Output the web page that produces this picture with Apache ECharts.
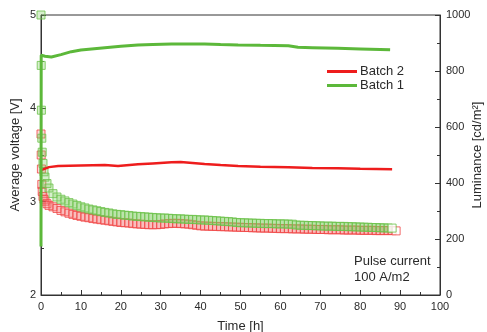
<!DOCTYPE html>
<html>
<head>
<meta charset="utf-8">
<script src="https://cdn.jsdelivr.net/npm/echarts@6/dist/echarts.min.js"></script>
<style>
  html, body { margin: 0; padding: 0; background: #fff; }
  #chart { width: 487px; height: 332px; }
</style>
</head>
<body>
<div id="chart"></div>
<script>
// Average voltage (left axis) — time [h] and volts
const voltTimeB1 = [0, 0.05, 0.5, 1, 2.6, 5, 7.6, 10, 16, 20, 24.3, 28, 32.7, 37, 41, 45, 49.4, 55, 62, 64.4, 68, 74.4, 80, 87.5];
const voltB1 = [2.52, 4.57, 4.564, 4.558, 4.55, 4.575, 4.607, 4.625, 4.65, 4.665, 4.679, 4.685, 4.689, 4.69, 4.689, 4.684, 4.679, 4.675, 4.671, 4.654, 4.65, 4.643, 4.637, 4.628];
const voltTimeB2 = [0.2, 0.5, 2, 4.3, 10, 16, 19.3, 24.3, 28, 32.7, 35, 38, 41, 45, 49.4, 55, 62, 68, 74.4, 80, 88];
const voltB2 = [3.34, 3.357, 3.37, 3.382, 3.388, 3.393, 3.382, 3.40, 3.41, 3.422, 3.425, 3.415, 3.404, 3.392, 3.382, 3.375, 3.368, 3.362, 3.357, 3.352, 3.347];

// Luminance (right axis) — time [h] and cd/m2
const lumTime = [0, 0.05, 0.1, 0.2, 0.3, 0.5, 0.75, 1, 1.5, 2,
  3, 4, 5, 6, 7, 8, 9, 10, 11, 12, 13, 14, 15, 16, 17, 18, 19, 20,
  21, 22, 23, 24, 25, 26, 27, 28, 29, 30, 31, 32, 33, 34, 35, 36, 37, 38, 39, 40,
  41, 42, 43, 44, 45, 46, 47, 48, 49, 50, 51, 52, 53, 54, 55, 56, 57, 58, 59, 60,
  61, 62, 63, 64, 65, 66, 67, 68, 69, 70, 71, 72, 73, 74, 75, 76, 77, 78, 79, 80,
  81, 82, 83, 84, 85, 86, 87, 88, 89];
const lumB1 = [1000, 820, 660, 560, 510, 470, 440, 421, 398, 382,
  362, 350, 342, 336, 330, 325, 320, 315, 311, 307, 304, 301, 298, 295, 293, 290, 288, 287,
  285, 284, 282, 281, 280, 279, 278, 277, 276, 275, 275, 274, 273, 272, 272, 271, 270, 270, 269, 268,
  268, 267, 266, 265, 264, 263, 262, 261, 259, 258, 258, 257, 257, 256, 256, 255, 255, 255, 254, 254,
  254, 253, 253, 250, 249, 249, 248, 248, 247, 247, 246, 246, 246, 245, 245, 245, 244, 244, 243, 243,
  242, 242, 241, 241, 240, 240, 239, 239, null];
const lumB2 = [575, 500, 450, 395, 370, 352, 342, 335, 326, 320,
  315, 309, 302, 297, 292, 288, 284, 281, 278, 276, 273, 271, 269, 267, 265, 263, 261, 259,
  258, 257, 255, 254, 253, 252, 251, 251, 251, 252, 254, 255, 256, 256, 255, 254, 253, 251, 249, 247,
  246, 246, 245, 245, 244, 244, 243, 243, 242, 242, 241, 241, 240, 240, 239, 239, 239, 238, 238, 237,
  237, 237, 236, 236, 236, 235, 235, 235, 234, 234, 234, 233, 233, 233, 233, 232, 232, 232, 232, 231,
  231, 231, 231, 230, 230, 230, 230, 230, 229];

const seriesNames = ['Batch 2', 'Batch 1'];
const annotation = ['Pulse current', '100 A/m2'];

const RED = '#ee1d1d';
const GREEN = '#5cb83a';
const TEXT = '#2a2a2a';
const FONT = 'Liberation Sans, Arial, sans-serif';

function pairs(ts, vs) {
  const out = [];
  ts.forEach((t, i) => { if (vs[i] != null) out.push([t, vs[i]]); });
  return out;
}
// Open squares; the final sample is drawn with a white face
function squares(ts, vs, color) {
  const pts = pairs(ts, vs);
  return pts.map((p, i) => i === pts.length - 1
    ? { value: p, itemStyle: { color: '#fff', borderColor: color } }
    : p);
}

const chart = echarts.init(document.getElementById('chart'), null, { renderer: 'canvas' });

const axisCommon = {
  axisLine: { show: true, lineStyle: { color: '#333', width: 1 } },
  axisTick: { show: true, inside: true, length: 5, lineStyle: { color: '#333', width: 1 } },
  minorTick: { show: true, splitNumber: 2, length: 3, lineStyle: { color: '#333', width: 1 } },
  splitLine: { show: false },
  axisLabel: { color: TEXT, fontSize: 11, fontFamily: FONT },
  nameTextStyle: { color: TEXT, fontSize: 13, fontFamily: FONT },
  nameMoveOverlap: false
};

chart.setOption({
  animation: false,
  backgroundColor: '#fff',
  grid: {
    left: 41, right: 47, top: 15, bottom: 37,
    outerBoundsMode: 'none', containLabel: false,
    show: true, borderColor: '#333', borderWidth: 1
  },
  xAxis: Object.assign({}, axisCommon, {
    type: 'value', min: 0, max: 100, interval: 10,
    name: 'Time [h]', nameLocation: 'middle', nameGap: 25,
    axisLabel: Object.assign({}, axisCommon.axisLabel, { margin: 6 })
  }),
  yAxis: [
    Object.assign({}, axisCommon, {
      type: 'value', min: 2, max: 5, interval: 1, position: 'left',
      name: 'Average voltage [V]', nameLocation: 'middle', nameGap: 19, nameRotate: 90,
      axisLabel: Object.assign({}, axisCommon.axisLabel, { margin: 5 })
    }),
    Object.assign({}, axisCommon, {
      type: 'value', min: 0, max: 1000, interval: 200, position: 'right',
      name: 'Luminance [cd/m²]', nameLocation: 'middle', nameGap: 31, nameRotate: 90,
      axisLabel: Object.assign({}, axisCommon.axisLabel, { margin: 6, formatter: v => String(v) })
    })
  ],
  legend: {
    data: seriesNames,
    orient: 'vertical', left: 322, top: 60,
    icon: 'rect', itemWidth: 30, itemHeight: 3, itemGap: 1,
    textStyle: { color: TEXT, fontSize: 13, fontFamily: FONT, padding: [0, 0, 0, -2] }
  },
  graphic: [{
    type: 'text', left: 354, top: 253,
    style: { text: annotation.join('\n'), fill: TEXT, font: '13px ' + FONT, lineHeight: 16 }
  }],
  series: [
    {
      name: 'Batch 2 luminance', type: 'scatter', yAxisIndex: 1,
      symbol: 'rect', symbolSize: 8,
      itemStyle: { color: 'rgba(245,120,120,0.35)', borderColor: '#f04545', borderWidth: 1 },
      data: squares(lumTime, lumB2, '#f04545'), z: 2
    },
    {
      name: 'Batch 1 luminance', type: 'scatter', yAxisIndex: 1,
      symbol: 'rect', symbolSize: 8,
      itemStyle: { color: 'rgba(130,205,100,0.4)', borderColor: '#6cc24a', borderWidth: 1 },
      data: squares(lumTime, lumB1, '#6cc24a'), z: 3
    },
    {
      name: 'Batch 2', type: 'line', yAxisIndex: 0, showSymbol: false, symbol: 'none',
      lineStyle: { color: RED, width: 2.5 }, itemStyle: { color: RED },
      data: pairs(voltTimeB2, voltB2), z: 4
    },
    {
      name: 'Batch 1', type: 'line', yAxisIndex: 0, showSymbol: false, symbol: 'none',
      lineStyle: { color: GREEN, width: 3 }, itemStyle: { color: GREEN },
      data: pairs(voltTimeB1, voltB1), z: 5
    }
  ]
});
</script>
</body>
</html>
